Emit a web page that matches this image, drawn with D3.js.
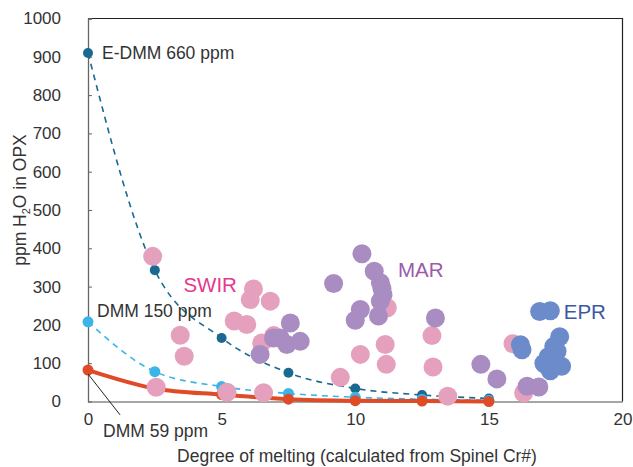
<!DOCTYPE html>
<html>
<head>
<meta charset="utf-8">
<script src="https://cdn.jsdelivr.net/npm/d3@7"></script>
<style>
  body { margin: 0; background: #fff; }
  svg text { font-family: "Liberation Sans", Arial, Helvetica, sans-serif; fill: #333; }
</style>
</head>
<body>
<svg id="chart" width="633" height="467"></svg>
<script>
// melting model curves (x = degree of melting)
var modelX  = [0, 2.5, 5, 7.5, 10, 12.5, 15];
var edmm    = [910, 343, 166, 75, 34, 17, 8];
var dmm150  = [208, 78, 39, 21, 11, 6, 3];
var dmm59   = [82, 34, 18, 6, 2, 1, 0];

// sample data [melting %, ppm H2O]
var swir = [[2.42,379],[3.45,173],[3.6,118],[2.55,37],[5.2,24],[5.47,210],[6.19,294],[6.07,266],
  [6.82,262],[5.94,201],[6.5,153],[6.95,172],[6.57,23],[9.44,63],[10.19,123],[11.12,149],[11.16,97],
  [12.87,172],[12.91,90],[13.46,14],[11.2,245],[15.9,151],[16.3,22]];
var mar = [[9.19,308],[10.25,386],[10.71,340],[10.94,310],[11.0,295],[11.04,279],[10.94,262],
  [10.19,240],[10.0,212],[10.87,223],[7.57,205],[7.19,166],[7.94,157],[7.44,149],[6.44,123],
  [6.94,166],[13.0,218],[14.7,97],[15.3,59],[16.43,40],[16.87,38]];
var epr = [[16.9,235],[17.3,237],[16.18,148],[16.24,135],[17.65,169],[17.43,144],[17.22,117],
  [17.1,97],[17.72,92],[17.3,80],[17.2,105],[17.55,131],[17.06,100]];

var xTicks = [0, 5, 10, 15, 20];
var yTicks = [0, 100, 200, 300, 400, 500, 600, 700, 800, 900, 1000];

var svg = d3.select("#chart");
var x = d3.scaleLinear().domain([0, 20]).range([88, 622.5]);
var y = d3.scaleLinear().domain([0, 1000]).range([401.5, 18.5]);

// frame (top + right)
svg.append("path")
  .attr("d", "M" + x(0) + "," + y(1000) + "H" + x(20) + "V" + y(0))
  .attr("fill", "none").attr("stroke", "#222").attr("stroke-width", 1.2);

// y axis
var gy = svg.append("g").attr("transform", "translate(" + x(0) + ",0)")
  .call(d3.axisLeft(y).tickValues(yTicks).tickFormat(d3.format("d")).tickSize(-4).tickPadding(27));
gy.select(".domain").attr("stroke", "#666").attr("stroke-width", 1.3);
gy.selectAll(".tick line").attr("stroke", "#666");
gy.selectAll("text").style("font-size", "17px").attr("fill", "#333");

// x axis
var gx = svg.append("g").attr("transform", "translate(0," + y(0) + ")")
  .call(d3.axisBottom(x).tickValues(xTicks).tickSize(0).tickPadding(11));
gx.select(".domain").attr("stroke", "#888").attr("stroke-width", 1.5);
gx.selectAll("text").style("font-size", "17px").attr("fill", "#333");

// axis titles
svg.append("text").attr("x", 357).attr("y", 462).attr("text-anchor", "middle")
  .style("font-size", "17.5px").text("Degree of melting (calculated from Spinel Cr#)");
var yt = svg.append("text").attr("transform", "translate(26,200) rotate(-90)")
  .attr("text-anchor", "middle").style("font-size", "17.5px");
yt.append("tspan").text("ppm H");
yt.append("tspan").attr("dy", 4).style("font-size", "11px").text("2");
yt.append("tspan").attr("dy", -4).text("O in OPX");

// model curves
var models = [
  {vals: edmm, color: "#1b6891", width: 1.6, dash: "6,5", r: 5},
  {vals: dmm150, color: "#3ab5e8", width: 1.6, dash: "6,5", r: 5.5},
  {vals: dmm59, color: "#df4a27", width: 4, dash: null, r: 5.5}
];
var line = d3.line().x(function(d) { return x(d[0]); }).y(function(d) { return y(d[1]); })
  .curve(d3.curveMonotoneX);
models.forEach(function(m) {
  var pts = modelX.map(function(v, i) { return [v, m.vals[i]]; });
  svg.append("path").datum(pts).attr("d", line)
    .attr("fill", "none").attr("stroke", m.color).attr("stroke-width", m.width)
    .attr("stroke-dasharray", m.dash);
  svg.append("g").selectAll("circle").data(pts).enter().append("circle")
    .attr("cx", function(d) { return x(d[0]); }).attr("cy", function(d) { return y(d[1]); })
    .attr("r", m.r).attr("fill", m.color);
});

// sample points
var groups = [
  {data: swir, color: "#e5a0be"},
  {data: mar, color: "#a98cc2"},
  {data: epr, color: "#6b8bca"}
];
groups.forEach(function(g) {
  svg.append("g").selectAll("circle").data(g.data).enter().append("circle")
    .attr("cx", function(d) { return x(d[0]); }).attr("cy", function(d) { return y(d[1]); })
    .attr("r", 9.5).attr("fill", g.color);
});

// annotations
svg.append("text").attr("x", x(0) + 14).attr("y", y(910) + 6)
  .style("font-size", "17.5px").text("E-DMM 660 ppm");
svg.append("text").attr("x", x(0) + 9).attr("y", y(235) + 6)
  .style("font-size", "17.5px").text("DMM 150 ppm");
svg.append("line").attr("x1", x(0)).attr("y1", y(72)).attr("x2", x(1.2)).attr("y2", y(-35))
  .attr("stroke", "#222").attr("stroke-width", 1);
svg.append("text").attr("x", 103).attr("y", 437)
  .style("font-size", "17.5px").text("DMM 59 ppm");

var regions = [
  {name: "SWIR", pos: [3.57, 304], color: "#e5388c"},
  {name: "MAR", pos: [11.6, 343], color: "#9c5aa8"},
  {name: "EPR", pos: [17.8, 234], color: "#3b58a6"}
];
regions.forEach(function(r) {
  svg.append("text").attr("x", x(r.pos[0])).attr("y", y(r.pos[1]) + 7)
    .style("font-size", "20.5px").style("fill", r.color).text(r.name);
});
</script>
</body>
</html>
